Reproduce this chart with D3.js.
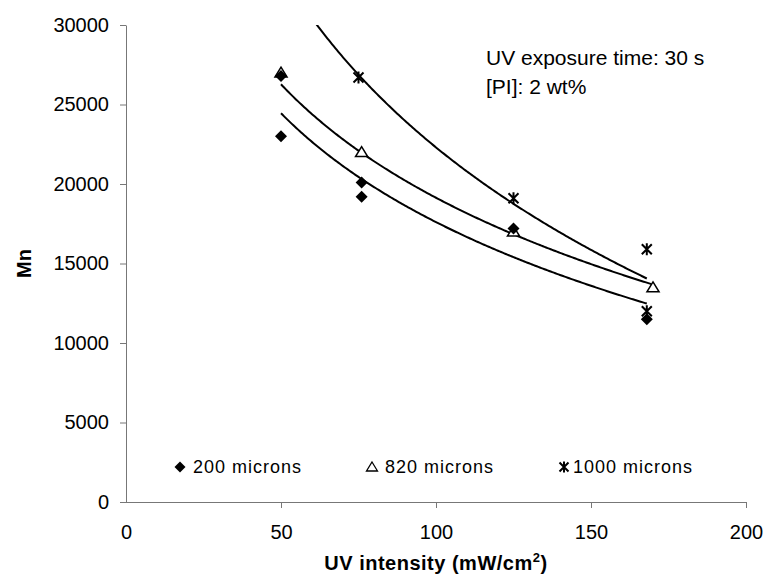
<!DOCTYPE html>
<html>
<head>
<meta charset="utf-8">
<script src="https://cdn.jsdelivr.net/npm/d3@7"></script>
<style>
  body { margin: 0; background: #fff; }
  text { font-family: "Liberation Sans", Arial, sans-serif; fill: #000; }
</style>
</head>
<body>
<svg id="chart" width="766" height="578"></svg>
<script>
// Data
var xTicks = [0, 50, 100, 150, 200];
var yTicks = [0, 5000, 10000, 15000, 20000, 25000, 30000];

var seriesNames = ["200 microns", "820 microns", "1000 microns"];

var x200 = [50, 50, 76, 76, 125, 168];
var y200 = [23000, 26800, 20100, 19200, 17200, 11500];

var x820 = [50, 76, 125, 170];
var y820 = [27000, 22000, 17000, 13500];

var x1000 = [75, 125, 168, 168];
var y1000 = [26700, 19100, 15900, 12000];

// log trendlines, y = a + b ln(x)
var trendA = [63094, 66536, 95487];
var trendB = [-9878, -10293, -15892];
var trendFrom = [50, 50, 60];
var trendTo = [168, 169.5, 168];

var notes = ["UV exposure time: 30 s", "[PI]: 2 wt%"];

// Layout
var margin = {top: 25, right: 20, bottom: 76, left: 126},
    width = 746 - margin.left,
    height = 502 - margin.top;

var svg = d3.select("#chart");
var g = svg.append("g")
    .attr("transform", "translate(" + margin.left + "," + margin.top + ")");

var x = d3.scaleLinear().domain([0, 200]).range([0, width]);
var y = d3.scaleLinear().domain([0, 30000]).range([height, 0]);

g.append("clipPath").attr("id", "plotclip")
  .append("rect").attr("width", width).attr("height", height);

// Axes
var yAxis = d3.axisLeft(y).tickValues(yTicks).tickFormat(d3.format("d"))
    .tickSize(6).tickSizeOuter(0).tickPadding(11);
var xAxis = d3.axisBottom(x).tickValues(xTicks).tickFormat(d3.format("d"))
    .tickSize(6).tickSizeOuter(0).tickPadding(17);

var ya = g.append("g").attr("class", "y axis").call(yAxis);
var xa = g.append("g").attr("class", "x axis")
    .attr("transform", "translate(0," + height + ")").call(xAxis);

[ya, xa].forEach(function(a) {
  a.select(".domain").attr("stroke", "#777").attr("stroke-width", 1);
  a.selectAll(".tick line").attr("stroke", "#777");
  a.selectAll(".tick text").style("font-size", "20px").attr("fill", "#000");
});
xa.selectAll(".tick").filter(function(d) { return d === 0; }).select("line").remove();
// extend x axis line a bit left past the y axis
xa.select(".domain").attr("d", "M-6,0.5H" + width);

// Axis titles
g.append("text")
    .attr("transform", "rotate(-90)")
    .attr("x", -height / 2)
    .attr("y", -102)
    .attr("dy", ".35em")
    .style("text-anchor", "middle")
    .style("font-size", "20px")
    .style("font-weight", "bold")
    .text("Mn");

var xt = g.append("text")
    .attr("x", width / 2)
    .attr("y", height + 68)
    .style("text-anchor", "middle")
    .style("font-size", "20px")
    .style("font-weight", "bold")
    .style("letter-spacing", "0.5px");
xt.append("tspan").text("UV intensity (mW/cm");
xt.append("tspan").attr("dy", -8).style("font-size", "13px").text("2");
xt.append("tspan").attr("dy", 8).text(")");

// Trendlines
var line = d3.line()
    .x(function(d) { return x(d[0]); })
    .y(function(d) { return y(d[1]); });

var plot = g.append("g").attr("clip-path", "url(#plotclip)");
trendA.forEach(function(a, i) {
  var pts = d3.range(trendFrom[i], trendTo[i] + 0.01, 0.5).map(function(v) {
    return [v, a + trendB[i] * Math.log(v)];
  });
  plot.append("path")
      .attr("d", line(pts))
      .attr("fill", "none")
      .attr("stroke", "#000")
      .attr("stroke-width", 2);
});

// Marker shapes
function diamond(s) { return "M0," + (-s) + "L" + s + ",0L0," + s + "L" + (-s) + ",0Z"; }
function triangle(s) { return "M0," + (-s) + "L" + (s * 1.1) + "," + (s * 0.8) + "L" + (-s * 1.1) + "," + (s * 0.8) + "Z"; }
function star(s) {
  return "M" + (-s) + "," + (-s) + "L" + s + "," + s +
         "M" + s + "," + (-s) + "L" + (-s) + "," + s +
         "M0," + (-s * 1.2) + "L0," + (s * 1.2);
}

var pts200 = x200.map(function(v, i) { return [v, y200[i]]; });
var pts820 = x820.map(function(v, i) { return [v, y820[i]]; });
var pts1000 = x1000.map(function(v, i) { return [v, y1000[i]]; });

// triangles first so the diamonds sit on top of them
g.selectAll(".p820").data(pts820).enter().append("path")
    .attr("class", "p820")
    .attr("transform", function(d) { return "translate(" + x(d[0]) + "," + y(d[1]) + ")"; })
    .attr("d", triangle(5.5))
    .attr("fill", "#fff")
    .attr("stroke", "#000")
    .attr("stroke-width", 1.5);

g.selectAll(".p200").data(pts200).enter().append("path")
    .attr("class", "p200")
    .attr("transform", function(d) { return "translate(" + x(d[0]) + "," + y(d[1]) + ")"; })
    .attr("d", diamond(6))
    .attr("fill", "#000");

g.selectAll(".p1000").data(pts1000).enter().append("path")
    .attr("class", "p1000")
    .attr("transform", function(d) { return "translate(" + x(d[0]) + "," + y(d[1]) + ")"; })
    .attr("d", star(5))
    .attr("fill", "none")
    .attr("stroke", "#000")
    .attr("stroke-width", 2);

// Legend
var legX = [180, 372, 564];
var legend = svg.append("g");
seriesNames.forEach(function(name, i) {
  var m = legend.append("path")
      .attr("transform", "translate(" + legX[i] + ",467)");
  if (i === 0) m.attr("d", diamond(5.5)).attr("fill", "#000");
  if (i === 1) m.attr("d", triangle(5)).attr("fill", "#fff").attr("stroke", "#000").attr("stroke-width", 1.3);
  if (i === 2) m.attr("d", star(4.5)).attr("fill", "none").attr("stroke", "#000").attr("stroke-width", 2);
  legend.append("text")
      .attr("x", legX[i] + (i === 2 ? 9 : 13))
      .attr("y", 473)
      .style("font-size", "18px")
      .style("letter-spacing", "1px")
      .text(name);
});

// Annotation
notes.forEach(function(t, i) {
  svg.append("text")
      .attr("x", 486)
      .attr("y", 65 + i * 29)
      .style("font-size", "21px")
      .text(t);
});
</script>
</body>
</html>
